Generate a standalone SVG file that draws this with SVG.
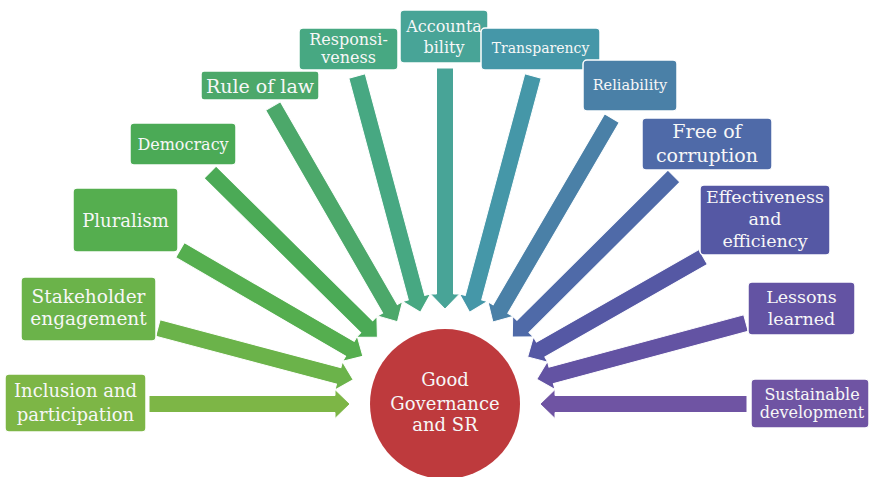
<svg xmlns="http://www.w3.org/2000/svg" width="870" height="477" viewBox="0 0 870 477">
<style>
.box{stroke:#ffffff;stroke-width:1.5}
.arr{stroke:#ffffff;stroke-width:1}
.t{font-family:"DejaVu Serif","Liberation Serif",serif;fill:#f7f7f7;text-anchor:middle}
</style>
<rect width="870" height="477" fill="#ffffff"/>
<g id="connectors">
<g transform="translate(350,404) rotate(0)"><polygon class="arr" fill="#7DB646" points="-201,-8.5 -15,-8.5 -15,-14.5 0,0 -15,14.5 -15,8.5 -201,8.5"/></g>
<g transform="translate(353.2,379.7) rotate(14.83)"><polygon class="arr" fill="#6BB34A" points="-202,-8.5 -15,-8.5 -15,-14.5 0,0 -15,14.5 -15,8.5 -202,8.5"/></g>
<g transform="translate(362.9,356.3) rotate(30.16)"><polygon class="arr" fill="#55AE4F" points="-211.5,-8.5 -15,-8.5 -15,-14.5 0,0 -15,14.5 -15,8.5 -211.5,8.5"/></g>
<g transform="translate(377.4,337.3) rotate(44.63)"><polygon class="arr" fill="#4BAA56" points="-235,-8.5 -15,-8.5 -15,-14.5 0,0 -15,14.5 -15,8.5 -235,8.5"/></g>
<g transform="translate(397.5,321.7) rotate(60)"><polygon class="arr" fill="#4CA86A" points="-249,-8.5 -15,-8.5 -15,-14.5 0,0 -15,14.5 -15,8.5 -249,8.5"/></g>
<g transform="translate(420.4,312.2) rotate(74.98)"><polygon class="arr" fill="#47A882" points="-244.6,-8.5 -15,-8.5 -15,-14.5 0,0 -15,14.5 -15,8.5 -244.6,8.5"/></g>
<g transform="translate(445,309) rotate(90)"><polygon class="arr" fill="#48A497" points="-241,-8.5 -15,-8.5 -15,-14.5 0,0 -15,14.5 -15,8.5 -241,8.5"/></g>
<g transform="translate(469.6,312.2) rotate(105.02)"><polygon class="arr" fill="#4597A8" points="-244.6,-8.5 -15,-8.5 -15,-14.5 0,0 -15,14.5 -15,8.5 -244.6,8.5"/></g>
<g transform="translate(492.9,322) rotate(120.28)"><polygon class="arr" fill="#4A80A7" points="-236,-8.5 -15,-8.5 -15,-14.5 0,0 -15,14.5 -15,8.5 -236,8.5"/></g>
<g transform="translate(512.3,337) rotate(135.13)"><polygon class="arr" fill="#4F6AA8" points="-228,-8.5 -15,-8.5 -15,-14.5 0,0 -15,14.5 -15,8.5 -228,8.5"/></g>
<g transform="translate(527.6,357) rotate(150.32)"><polygon class="arr" fill="#5558A4" points="-202,-8.5 -15,-8.5 -15,-14.5 0,0 -15,14.5 -15,8.5 -202,8.5"/></g>
<g transform="translate(536.7,379.3) rotate(164.94)"><polygon class="arr" fill="#6353A3" points="-216.7,-8.5 -15,-8.5 -15,-14.5 0,0 -15,14.5 -15,8.5 -216.7,8.5"/></g>
<g transform="translate(540,404) rotate(180)"><polygon class="arr" fill="#6F54A3" points="-207,-8.5 -15,-8.5 -15,-14.5 0,0 -15,14.5 -15,8.5 -207,8.5"/></g>
</g>
<g id="n-inclusion"><rect class="box" x="5" y="374" width="141" height="58" rx="4" fill="#7DB646"/><text class="t" x="75.5" y="397" font-size="18">Inclusion and</text><text class="t" x="75.5" y="421" font-size="18">participation</text></g>
<g id="n-stakeholder"><rect class="box" x="21" y="277" width="135" height="64" rx="4" fill="#6BB34A"/><text class="t" x="88.5" y="303" font-size="18.5">Stakeholder</text><text class="t" x="88.5" y="325" font-size="18.5">engagement</text></g>
<g id="n-pluralism"><rect class="box" x="73" y="188" width="105" height="64" rx="4" fill="#55AE4F"/><text class="t" x="125.5" y="227" font-size="18">Pluralism</text></g>
<g id="n-democracy"><rect class="box" x="130" y="123" width="106" height="42" rx="4" fill="#4BAA56"/><text class="t" x="183" y="150" font-size="16">Democracy</text></g>
<g id="n-ruleoflaw"><rect class="box" x="201" y="71" width="118" height="29" rx="3" fill="#4CA86A"/><text class="t" x="260" y="93" font-size="19">Rule of law</text></g>
<g id="n-responsiveness"><rect class="box" x="299" y="28" width="99" height="42" rx="4" fill="#47A882"/><text class="t" x="348.5" y="45" font-size="16">Responsi-</text><text class="t" x="348.5" y="63" font-size="16">veness</text></g>
<g id="n-accountability"><rect class="box" x="400" y="10" width="88" height="53" rx="4" fill="#48A497"/><text class="t" x="444" y="32" font-size="16">Accounta</text><text class="t" x="444" y="53" font-size="16">bility</text></g>
<g id="n-transparency"><rect class="box" x="481" y="28" width="119" height="42" rx="4" fill="#4597A8"/><text class="t" x="540.5" y="53" font-size="14">Transparency</text></g>
<g id="n-reliability"><rect class="box" x="583" y="60" width="94" height="51" rx="4" fill="#4A80A7"/><text class="t" x="630" y="90" font-size="14.5">Reliability</text></g>
<g id="n-corruption"><rect class="box" x="642" y="118" width="130" height="52" rx="4" fill="#4F6AA8"/><text class="t" x="707" y="138" font-size="19">Free of</text><text class="t" x="707" y="162" font-size="19">corruption</text></g>
<g id="n-effectiveness"><rect class="box" x="700" y="185" width="130" height="70" rx="4" fill="#5558A4"/><text class="t" x="765" y="203" font-size="17.5">Effectiveness</text><text class="t" x="765" y="225" font-size="17.5">and</text><text class="t" x="765" y="247" font-size="17.5">efficiency</text></g>
<g id="n-lessons"><rect class="box" x="748" y="282" width="107" height="53" rx="4" fill="#6353A3"/><text class="t" x="801.5" y="303" font-size="17.5">Lessons</text><text class="t" x="801.5" y="325" font-size="17.5">learned</text></g>
<g id="n-sustainable"><rect class="box" x="751" y="379" width="118" height="49" rx="4" fill="#6F54A3"/><text class="t" x="812" y="400" font-size="16">Sustainable</text><text class="t" x="812" y="418" font-size="16">development</text></g>
<g id="n-center"><circle cx="445" cy="404" r="75" fill="#BE3A3D"/><text class="t" x="445" y="386" font-size="18">Good</text><text class="t" x="445" y="410" font-size="18">Governance</text><text class="t" x="445" y="431" font-size="18">and SR</text></g>
</svg>
